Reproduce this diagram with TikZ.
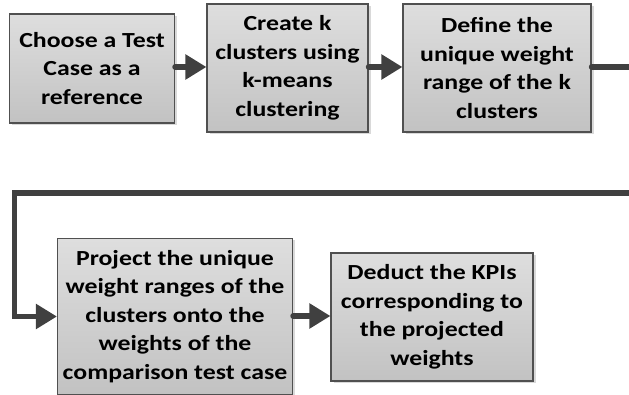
\documentclass[tikz,border=0pt]{standalone}
\usepackage{fontspec}
\setmainfont{Carlito}[FakeStretch=1.2]
\usetikzlibrary{arrows.meta,shadows}
\definecolor{edgegray}{HTML}{505050}
\definecolor{arrowgray}{HTML}{404040}
\definecolor{filltop}{HTML}{DEDEDE}
\definecolor{fillbot}{HTML}{C2C2C2}
\tikzset{
  stepbox/.style={draw=edgegray, line width=1.1pt, top color=filltop, bottom color=fillbot,
    align=center, inner sep=0pt, font=\fontsize{21.5}{28.5}\selectfont\bfseries,
    drop shadow={shadow xshift=2.5pt, shadow yshift=-2pt, fill=black, opacity=0.15}},
  flow/.style={draw=arrowgray, line width=5.5pt, line cap=round,
    -{Triangle[length=21pt,width=24pt]}},
  plain/.style={draw=arrowgray, line width=5.5pt, line cap=butt}
}
\begin{document}
\begin{tikzpicture}[x=1pt,y=-1pt]
\useasboundingbox (0,0) rectangle (629,395);
\node[stepbox, minimum width=165pt, minimum height=109pt] (b1) at (92,68.5)
  {Choose a Test\\Case as a\\reference};
\node[stepbox, minimum width=161pt, minimum height=128pt] (b2) at (287.5,68)
  {Create k\\clusters using\\k-means\\clustering};
\node[stepbox, minimum width=188pt, minimum height=128pt] (b3) at (497,68)
  {Define the\\unique weight\\range of the k\\clusters};
\node[stepbox, minimum width=235pt, minimum height=156pt] (b4) at (175,316.5)
  {Project the unique\\weight ranges of the\\clusters onto the\\weights of the\\comparison test case};
\node[stepbox, minimum width=202pt, minimum height=128pt] (b5) at (432,317)
  {Deduct the KPIs\\corresponding to\\the projected\\weights};
\coordinate (e1) at (632,67);
\coordinate (r) at (632,193);
\coordinate (l) at (14.5,193);
\draw[flow] (b1.east |- 0,67) -- (b2.west |- 0,67);
\draw[flow] (b2.east |- 0,67) -- (b3.west |- 0,67);
\draw[plain, line cap=round] (b3.east |- e1) -- (e1);
\draw[flow, line cap=butt, line join=miter] (r) -- (l) |- (b4.west);
\draw[flow] (b4.east |- 0,316) -- (b5.west |- 0,316);
\end{tikzpicture}
\end{document}
